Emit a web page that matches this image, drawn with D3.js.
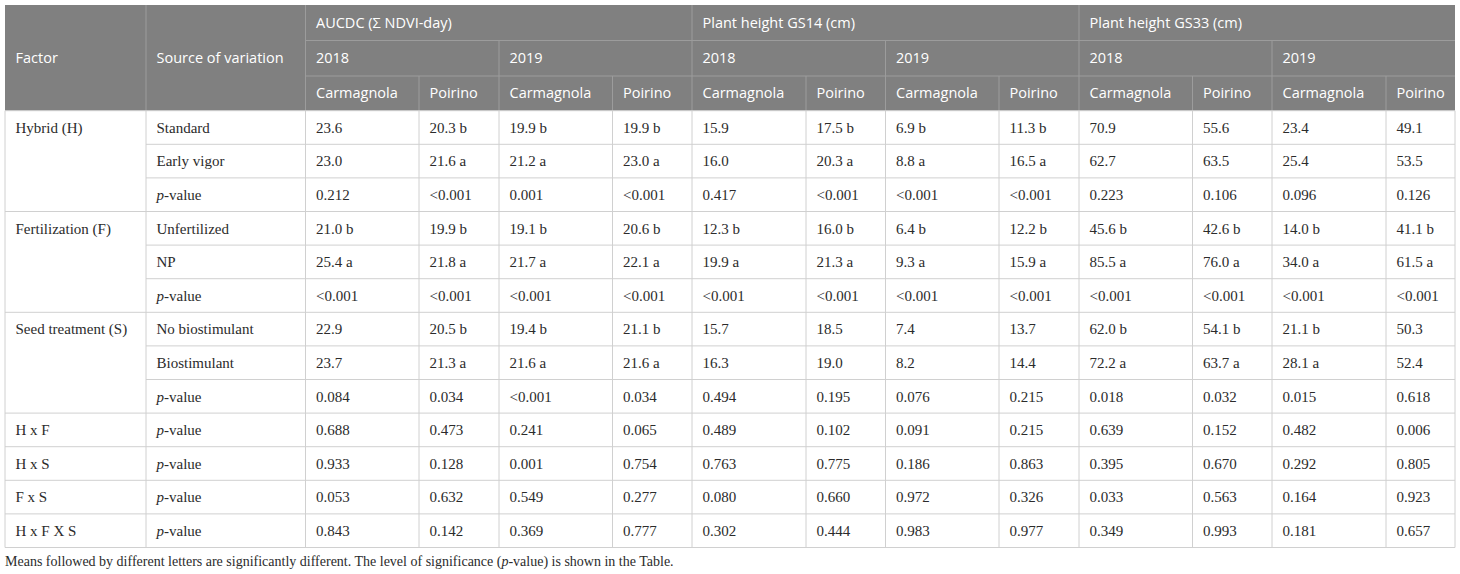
<!DOCTYPE html>
<html>
<head>
<meta charset="utf-8">
<script src="https://cdn.jsdelivr.net/npm/d3@7"></script>
<style>
  body { margin: 0; background: #ffffff; }
  svg { display: block; }
</style>
</head>
<body>
<svg id="svg" width="1460" height="574"></svg>
<script>
// Data
const measures = ["AUCDC (\u03A3 NDVI-day)", "Plant height GS14 (cm)", "Plant height GS33 (cm)"];
const years = ["2018", "2019"];
const sites = ["Carmagnola", "Poirino"];

const factors = ["Hybrid (H)", "Fertilization (F)", "Seed treatment (S)", "H x F", "H x S", "F x S", "H x F X S"];
const factorSpan = [3, 3, 3, 1, 1, 1, 1];
const sources = ["Standard", "Early vigor", "p-value", "Unfertilized", "NP", "p-value",
  "No biostimulant", "Biostimulant", "p-value", "p-value", "p-value", "p-value", "p-value"];

const aucdc2018Carm = ["23.6", "23.0", "0.212", "21.0 b", "25.4 a", "<0.001", "22.9", "23.7", "0.084", "0.688", "0.933", "0.053", "0.843"];
const aucdc2018Poir = ["20.3 b", "21.6 a", "<0.001", "19.9 b", "21.8 a", "<0.001", "20.5 b", "21.3 a", "0.034", "0.473", "0.128", "0.632", "0.142"];
const aucdc2019Carm = ["19.9 b", "21.2 a", "0.001", "19.1 b", "21.7 a", "<0.001", "19.4 b", "21.6 a", "<0.001", "0.241", "0.001", "0.549", "0.369"];
const aucdc2019Poir = ["19.9 b", "23.0 a", "<0.001", "20.6 b", "22.1 a", "<0.001", "21.1 b", "21.6 a", "0.034", "0.065", "0.754", "0.277", "0.777"];
const gs14_2018Carm = ["15.9", "16.0", "0.417", "12.3 b", "19.9 a", "<0.001", "15.7", "16.3", "0.494", "0.489", "0.763", "0.080", "0.302"];
const gs14_2018Poir = ["17.5 b", "20.3 a", "<0.001", "16.0 b", "21.3 a", "<0.001", "18.5", "19.0", "0.195", "0.102", "0.775", "0.660", "0.444"];
const gs14_2019Carm = ["6.9 b", "8.8 a", "<0.001", "6.4 b", "9.3 a", "<0.001", "7.4", "8.2", "0.076", "0.091", "0.186", "0.972", "0.983"];
const gs14_2019Poir = ["11.3 b", "16.5 a", "<0.001", "12.2 b", "15.9 a", "<0.001", "13.7", "14.4", "0.215", "0.215", "0.863", "0.326", "0.977"];
const gs33_2018Carm = ["70.9", "62.7", "0.223", "45.6 b", "85.5 a", "<0.001", "62.0 b", "72.2 a", "0.018", "0.639", "0.395", "0.033", "0.349"];
const gs33_2018Poir = ["55.6", "63.5", "0.106", "42.6 b", "76.0 a", "<0.001", "54.1 b", "63.7 a", "0.032", "0.152", "0.670", "0.563", "0.993"];
const gs33_2019Carm = ["23.4", "25.4", "0.096", "14.0 b", "34.0 a", "<0.001", "21.1 b", "28.1 a", "0.015", "0.482", "0.292", "0.164", "0.181"];
const gs33_2019Poir = ["49.1", "53.5", "0.126", "41.1 b", "61.5 a", "<0.001", "50.3", "52.4", "0.618", "0.006", "0.805", "0.923", "0.657"];

const valueColumns = [aucdc2018Carm, aucdc2018Poir, aucdc2019Carm, aucdc2019Poir,
  gs14_2018Carm, gs14_2018Poir, gs14_2019Carm, gs14_2019Poir,
  gs33_2018Carm, gs33_2018Poir, gs33_2019Carm, gs33_2019Poir];

const footnote = "Means followed by different letters are significantly different. The level of significance (";
const footnoteEnd = "-value) is shown in the Table.";

//Layout
const COL_EDGES = [5, 146, 305.5, 419, 499, 612.5, 692, 806, 885.5, 999, 1079, 1192.5, 1272, 1386, 1455];
const TOP = 5, HEAD_ROWS = [5, 40.5, 76, 110.7];
const BODY_BOTTOM = 547.5;
const PAD = 10.5;
const HEAD_BG = "#808080", HEAD_LINE = "#9c9c9c", GRID = "#d0d0d0";
const SANS = "'Open Sans', sans-serif", SERIF = "'Liberation Serif', 'Times New Roman', serif";

const svg = d3.select("svg");
const nRows = sources.length;

const y = d3.scaleBand().domain(d3.range(nRows)).range([HEAD_ROWS[3], BODY_BOTTOM]);
const colX = (i) => COL_EDGES[i];

//Header background
svg.append("rect")
  .attr("x", COL_EDGES[0]).attr("y", TOP)
  .attr("width", COL_EDGES[14] - COL_EDGES[0]).attr("height", HEAD_ROWS[3] - TOP)
  .attr("fill", HEAD_BG);

const headLines = svg.append("g").attr("stroke", HEAD_LINE).attr("stroke-width", 1);
// horizontal header lines
[HEAD_ROWS[1], HEAD_ROWS[2]].forEach(yy => {
  headLines.append("line").attr("x1", COL_EDGES[2]).attr("x2", COL_EDGES[14]).attr("y1", yy).attr("y2", yy);
});
// vertical header lines
COL_EDGES.slice(1, 14).forEach((xx, k) => {
  const i = k + 1;
  let y1;
  if (i <= 2 || i === 6 || i === 10) y1 = HEAD_ROWS[0];
  else if (i === 4 || i === 8 || i === 12) y1 = HEAD_ROWS[1];
  else y1 = HEAD_ROWS[2];
  headLines.append("line").attr("x1", xx).attr("x2", xx).attr("y1", y1).attr("y2", HEAD_ROWS[3]);
});

const headText = svg.append("g")
  .attr("fill", "#ffffff")
  .attr("font-family", SANS)
  .attr("font-size", "14.5px");

const midY = (a, b) => (a + b) / 2;
headText.append("text").attr("x", colX(0) + PAD).attr("y", midY(HEAD_ROWS[0], HEAD_ROWS[3]))
  .attr("dy", "0.35em").text("Factor");
headText.append("text").attr("x", colX(1) + PAD).attr("y", midY(HEAD_ROWS[0], HEAD_ROWS[3]))
  .attr("dy", "0.35em").text("Source of variation");

headText.selectAll("text.measure").data(measures).enter().append("text")
  .attr("class", "measure")
  .attr("x", (d, i) => colX(2 + i * 4) + PAD)
  .attr("y", midY(HEAD_ROWS[0], HEAD_ROWS[1]))
  .attr("dy", "0.35em")
  .text(d => d);

const yearCells = d3.range(6).map(i => ({ label: years[i % 2], col: 2 + i * 2 }));
headText.selectAll("text.year").data(yearCells).enter().append("text")
  .attr("class", "year")
  .attr("x", d => colX(d.col) + PAD)
  .attr("y", midY(HEAD_ROWS[1], HEAD_ROWS[2]))
  .attr("dy", "0.35em")
  .text(d => d.label);

const siteCells = d3.range(12).map(i => ({ label: sites[i % 2], col: 2 + i }));
headText.selectAll("text.site").data(siteCells).enter().append("text")
  .attr("class", "site")
  .attr("x", d => colX(d.col) + PAD)
  .attr("y", midY(HEAD_ROWS[2], HEAD_ROWS[3]))
  .attr("dy", "0.35em")
  .text(d => d.label);

//Body grid
const grid = svg.append("g").attr("stroke", GRID).attr("stroke-width", 1);
// row lines in source and value columns
d3.range(nRows + 1).forEach(r => {
  const yy = r < nRows ? y(r) : BODY_BOTTOM;
  grid.append("line").attr("x1", COL_EDGES[1]).attr("x2", COL_EDGES[14]).attr("y1", yy).attr("y2", yy);
});
// group lines in factor column
let start = 0;
const groupStarts = factorSpan.map(s => { const g = start; start += s; return g; });
groupStarts.concat([nRows]).forEach(r => {
  const yy = r < nRows ? y(r) : BODY_BOTTOM;
  grid.append("line").attr("x1", COL_EDGES[0]).attr("x2", COL_EDGES[1]).attr("y1", yy).attr("y2", yy);
});
// vertical lines
COL_EDGES.forEach(xx => {
  grid.append("line").attr("x1", xx).attr("x2", xx).attr("y1", HEAD_ROWS[3]).attr("y2", BODY_BOTTOM);
});

//Body text
const bodyText = svg.append("g")
  .attr("fill", "#2b2b2b")
  .attr("font-family", SERIF)
  .attr("font-size", "15px");

bodyText.selectAll("text.factor").data(factors).enter().append("text")
  .attr("class", "factor")
  .attr("x", colX(0) + PAD)
  .attr("y", (d, i) => y(groupStarts[i]) + y.bandwidth() / 2)
  .attr("dy", "0.35em")
  .text(d => d);

const src = bodyText.selectAll("text.source").data(sources).enter().append("text")
  .attr("class", "source")
  .attr("x", colX(1) + PAD)
  .attr("y", (d, i) => y(i) + y.bandwidth() / 2)
  .attr("dy", "0.35em");
src.each(function (d) {
  const t = d3.select(this);
  if (d === "p-value") {
    t.append("tspan").attr("font-style", "italic").text("p");
    t.append("tspan").text("-value");
  } else {
    t.text(d);
  }
});

valueColumns.forEach((col, c) => {
  bodyText.selectAll("text.v" + c).data(col).enter().append("text")
    .attr("class", "v" + c)
    .attr("x", colX(2 + c) + PAD)
    .attr("y", (d, i) => y(i) + y.bandwidth() / 2)
    .attr("dy", "0.35em")
    .text(d => d);
});

//Footnote
const fn = svg.append("text")
  .attr("x", COL_EDGES[0])
  .attr("y", 561)
  .attr("dy", "0.35em")
  .attr("fill", "#2b2b2b")
  .attr("font-family", SERIF)
  .attr("font-size", "14px");
fn.append("tspan").text(footnote);
fn.append("tspan").attr("font-style", "italic").text("p");
fn.append("tspan").text(footnoteEnd);
</script>
</body>
</html>
